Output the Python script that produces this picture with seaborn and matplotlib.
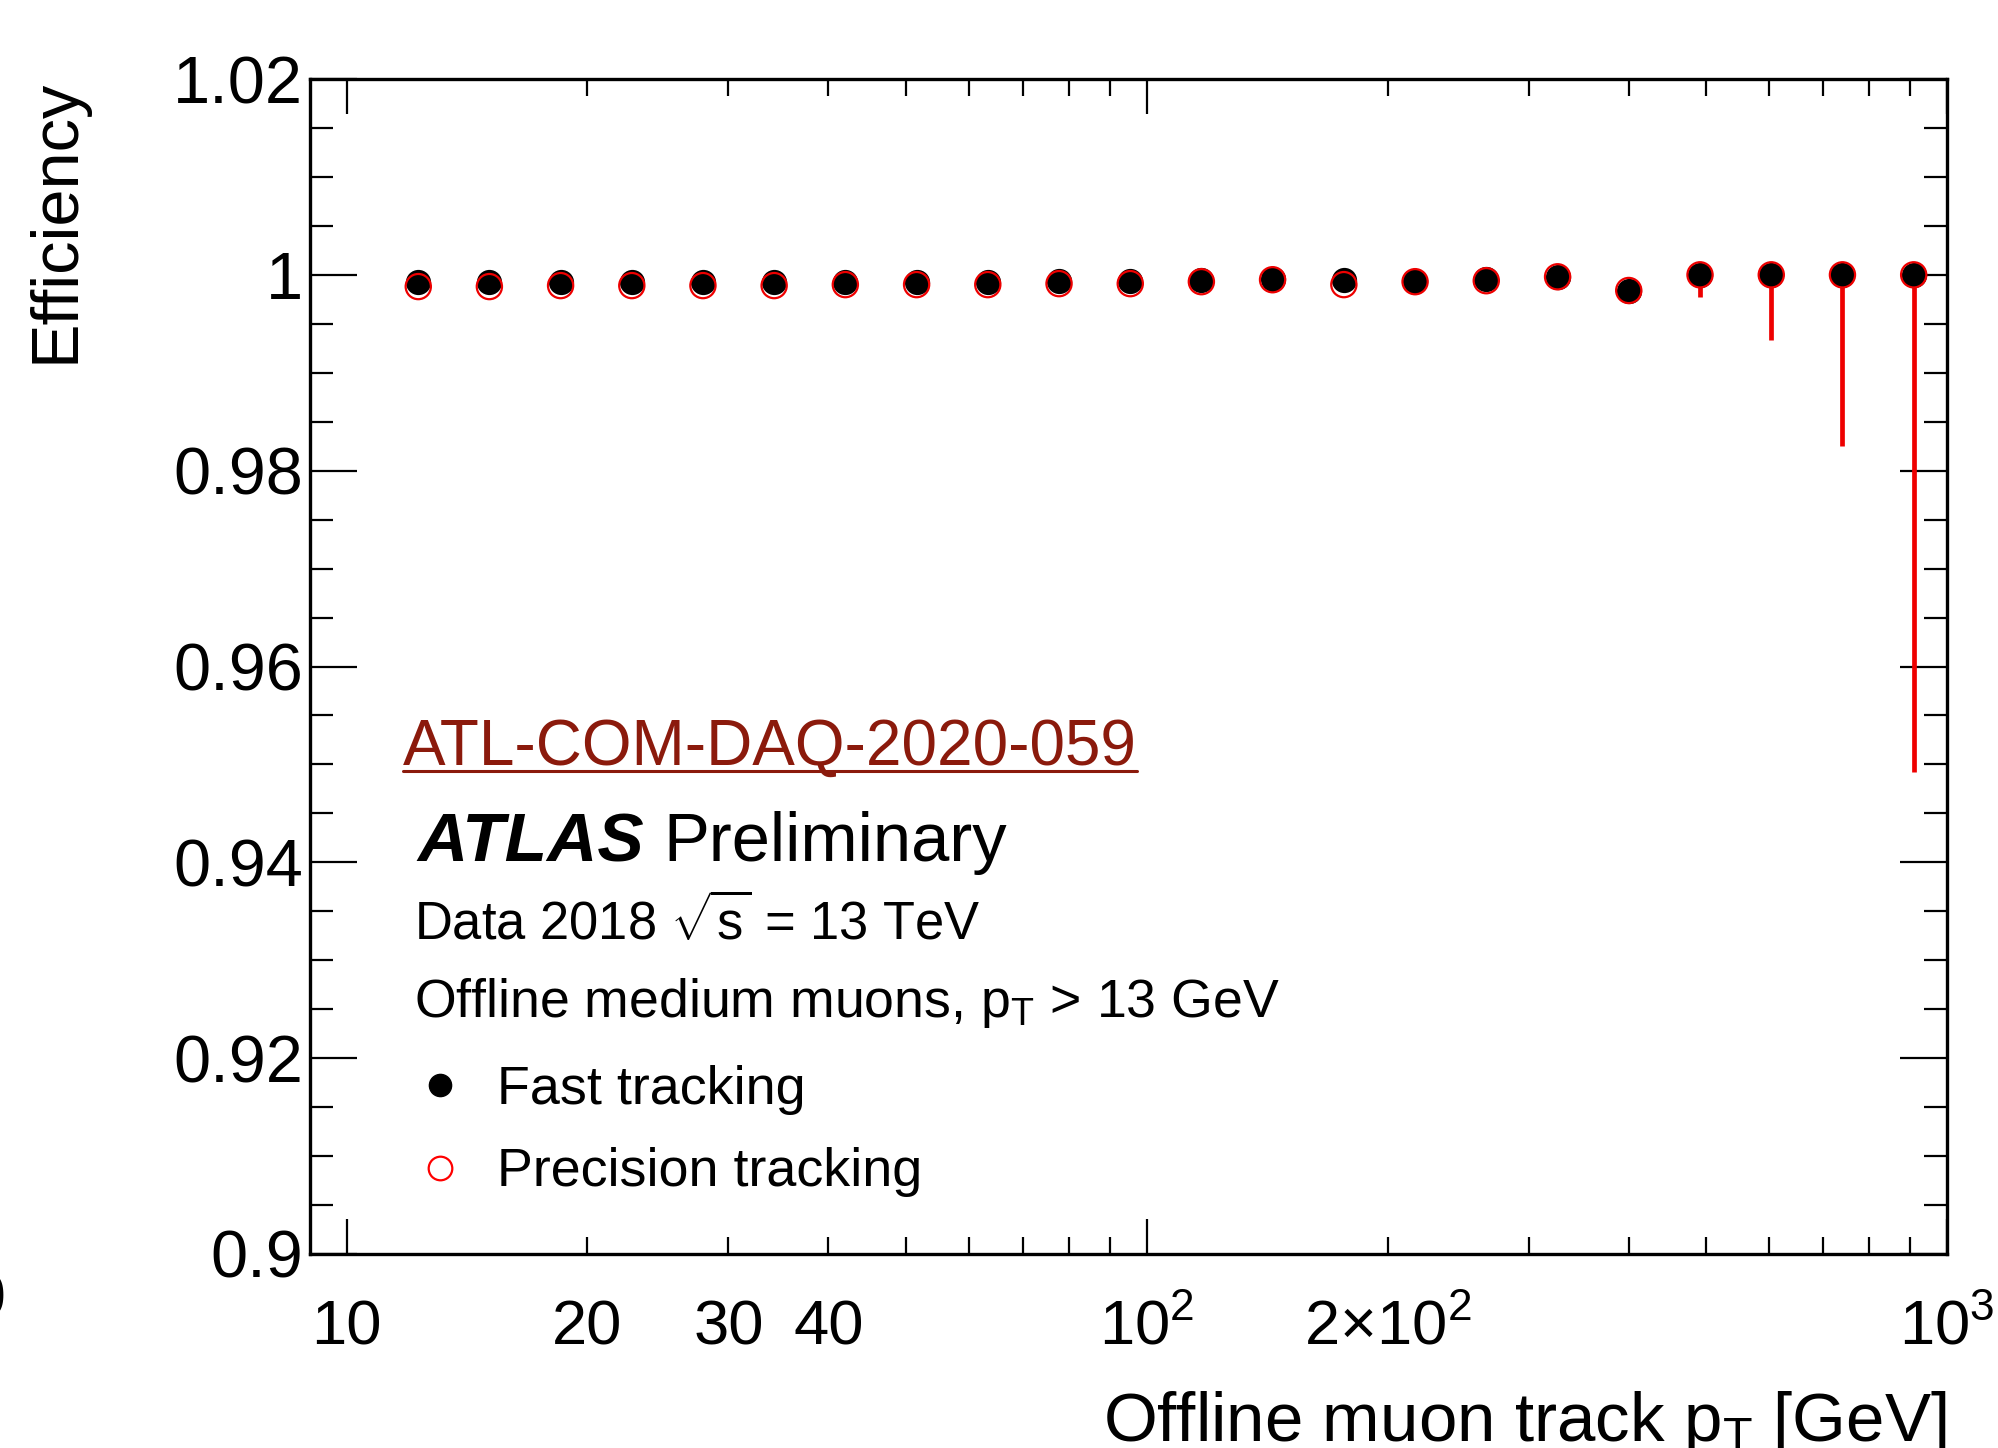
import numpy as np
import pandas as pd
import matplotlib
matplotlib.use("Agg")
import matplotlib.pyplot as plt
import seaborn as sns
from matplotlib.ticker import FixedLocator, FixedFormatter, MultipleLocator, FuncFormatter
from matplotlib.lines import Line2D

# ---------------- data ----------------
pt_centers = [12.29, 15.08, 18.51, 22.72, 27.88, 34.22, 42.0, 51.56, 63.28, 77.68,
              95.35, 117.0, 143.6, 176.3, 216.4, 265.6, 326.1, 400.2, 491.3, 603.1,
              740.2, 908.6]
eff_fast = [0.9993, 0.9993, 0.9993, 0.9993, 0.9993, 0.9993, 0.9993, 0.9993, 0.9993, 0.9994,
            0.9994, 0.9995, 0.9996, 0.9995, 0.9994, 0.9996, 0.9998, 0.9984, 1.0, 1.0,
            1.0, 1.0]
eff_prec = [0.9988, 0.9988, 0.9989, 0.9989, 0.9989, 0.9989, 0.9990, 0.9990, 0.9990, 0.9991,
            0.9991, 0.9993, 0.9995, 0.9990, 0.9993, 0.9994, 0.9998, 0.9984, 1.0, 1.0,
            1.0, 1.0]
err_prec_low = [0.0001, 0.0001, 0.0001, 0.0001, 0.0001, 0.0001, 0.0001, 0.0001, 0.0001, 0.0001,
                0.0001, 0.0001, 0.0001, 0.0002, 0.0002, 0.0002, 0.0002, 0.0003, 0.0023, 0.0067,
                0.0175, 0.0508]
err_prec_up = [0.0001, 0.0001, 0.0001, 0.0001, 0.0001, 0.0001, 0.0001, 0.0001, 0.0001, 0.0001,
               0.0001, 0.0001, 0.0001, 0.0001, 0.0001, 0.0001, 0.0001, 0.0002, 0.0, 0.0,
               0.0, 0.0]

y_ticks = [0.90, 0.92, 0.94, 0.96, 0.98, 1.00, 1.02]
y_ticklabels = ["0.9", "0.92", "0.94", "0.96", "0.98", "1", "1.02"]
x_major_ticks = [10, 100, 1000]
x_major_labels = ["10", "10$^{2}$", "10$^{3}$"]
x_minor_ticks = [20, 30, 40, 50, 60, 70, 80, 90, 200, 300, 400, 500, 600, 700, 800, 900]
x_minor_labels = {20: "20", 30: "30", 40: "40", 200: "2×10$^{2}$"}

df = pd.DataFrame({"pt": pt_centers, "fast": eff_fast, "prec": eff_prec})

# ---------------- style ----------------
sns.set_theme(style="ticks")
plt.rcParams["font.family"] = ["Liberation Sans", "DejaVu Sans"]
plt.rcParams["mathtext.fontset"] = "custom"
plt.rcParams["mathtext.rm"] = "Liberation Sans"
plt.rcParams["mathtext.it"] = "Liberation Sans:italic"
plt.rcParams["mathtext.bf"] = "Liberation Sans:bold"
plt.rcParams["axes.edgecolor"] = "black"
plt.rcParams["axes.labelcolor"] = "black"
plt.rcParams["text.color"] = "black"

W, H = 1999, 1448
fig = plt.figure(figsize=(W / 100, H / 100), dpi=100)
fig.patch.set_facecolor("white")
ax = fig.add_axes([310 / W, 1 - 1254 / H, (1947 - 310) / W, (1254 - 79) / H])
ax.set_facecolor("white")

RED = "#ee0000"

# error bars (only visible ones stick out of markers)
ax.errorbar(df["pt"], df["prec"], yerr=[err_prec_low, err_prec_up], fmt="none",
            ecolor=RED, elinewidth=3.4, capsize=0, zorder=2)
sns.scatterplot(data=df, x="pt", y="fast", color="black", s=330, linewidth=0,
                marker="o", zorder=3, ax=ax, legend=False)
sns.scatterplot(data=df, x="pt", y="prec", color=RED, facecolor="none", edgecolor=RED,
                s=330, linewidth=1.6, marker="o", zorder=4, ax=ax, legend=False)

ax.set_xscale("log")
ax.set_xlim(9.0, 1000)
ax.set_ylim(0.9, 1.02)

ax.yaxis.set_major_locator(FixedLocator(y_ticks))
ax.yaxis.set_major_formatter(FixedFormatter(y_ticklabels))
ax.yaxis.set_minor_locator(MultipleLocator(0.005))

ax.xaxis.set_major_locator(FixedLocator(x_major_ticks))
ax.xaxis.set_major_formatter(FixedFormatter(x_major_labels))
ax.xaxis.set_minor_locator(FixedLocator(x_minor_ticks))
ax.xaxis.set_minor_formatter(FuncFormatter(lambda v, p: x_minor_labels.get(int(round(v)), "")))

for sp in ax.spines.values():
    sp.set_linewidth(2.4)
    sp.set_color("black")

ax.tick_params(axis="both", which="both", direction="in", top=True, right=True,
               width=1.6, color="black", labelcolor="black")
ax.tick_params(axis="y", which="major", length=34, pad=5, labelsize=48)
ax.tick_params(axis="y", which="minor", length=16.5)
ax.tick_params(axis="x", which="major", length=25, pad=65, labelsize=45.5)
ax.tick_params(axis="x", which="minor", length=12.5, pad=65, labelsize=45.5)
for lbl in ax.xaxis.get_majorticklabels() + ax.xaxis.get_minorticklabels():
    lbl.set_verticalalignment("baseline")

ax.set_ylabel("Efficiency", fontsize=48, rotation=90, color="black")
ax.yaxis.label.set_horizontalalignment("right")
ax.yaxis.label.set_verticalalignment("center")
ax.yaxis.set_label_coords((57 - 310) / 1637, 1.0)

ax.set_xlabel("Offline muon track p$_{\\mathrm{T}}$ [GeV]", fontsize=49.8, color="black")
ax.xaxis.label.set_horizontalalignment("right")
ax.xaxis.label.set_verticalalignment("baseline")
ax.xaxis.set_label_coords(1.0, (1254 - 1441) / 1175)

# ---------------- annotation texts ----------------
def fx(px):
    return px / W

def fy(py):
    return 1 - py / H

DARKRED = "#8b1a0c"
t_ref = fig.text(fx(403), fy(765), "ATL-COM-DAQ-2020-059", fontsize=46,
                 color=DARKRED, ha="left", va="baseline")
fig.text(fx(417), fy(861), "ATLAS", fontsize=50, fontweight="bold", fontstyle="italic",
         color="black", ha="left", va="baseline")
fig.text(fx(663), fy(861), "Preliminary", fontsize=49.5, color="black", ha="left", va="baseline")
fig.text(fx(414), fy(940), "Data 2018 $\\sqrt{\\mathrm{s}}$ = 13 TeV", fontsize=37.8,
         color="black", ha="left", va="baseline")
fig.text(fx(414), fy(1017), "Offline medium muons, p$_{\\mathrm{T}}$ > 13 GeV", fontsize=38.6,
         color="black", ha="left", va="baseline")
fig.text(fx(497), fy(1104), "Fast tracking", fontsize=38.8, color="black", ha="left", va="baseline")
fig.text(fx(497), fy(1186), "Precision tracking", fontsize=38.8, color="black", ha="left",
         va="baseline")

# legend symbols
ax.plot([(440 - 310) / 1637], [(1254 - 1085) / 1175], "o", color="black", ms=16,
        transform=ax.transAxes, clip_on=False)
ax.plot([(440 - 310) / 1637], [(1254 - 1168) / 1175], "o", mfc="none", mec="red", mew=1.6,
        ms=17, transform=ax.transAxes, clip_on=False)

# crop artefact at the left edge of the reference
fig.text(fx(6), fy(1301), "0", fontsize=44, fontweight="bold", color="black",
         ha="right", va="center")

# underline of the reference tag
fig.canvas.draw()
bb = t_ref.get_window_extent()
fig.add_artist(Line2D([bb.x0 / W, bb.x1 / W], [fy(771), fy(771)], transform=fig.transFigure,
                      color=DARKRED, lw=2.2))

fig.savefig("out.png", dpi=100, facecolor="white")
